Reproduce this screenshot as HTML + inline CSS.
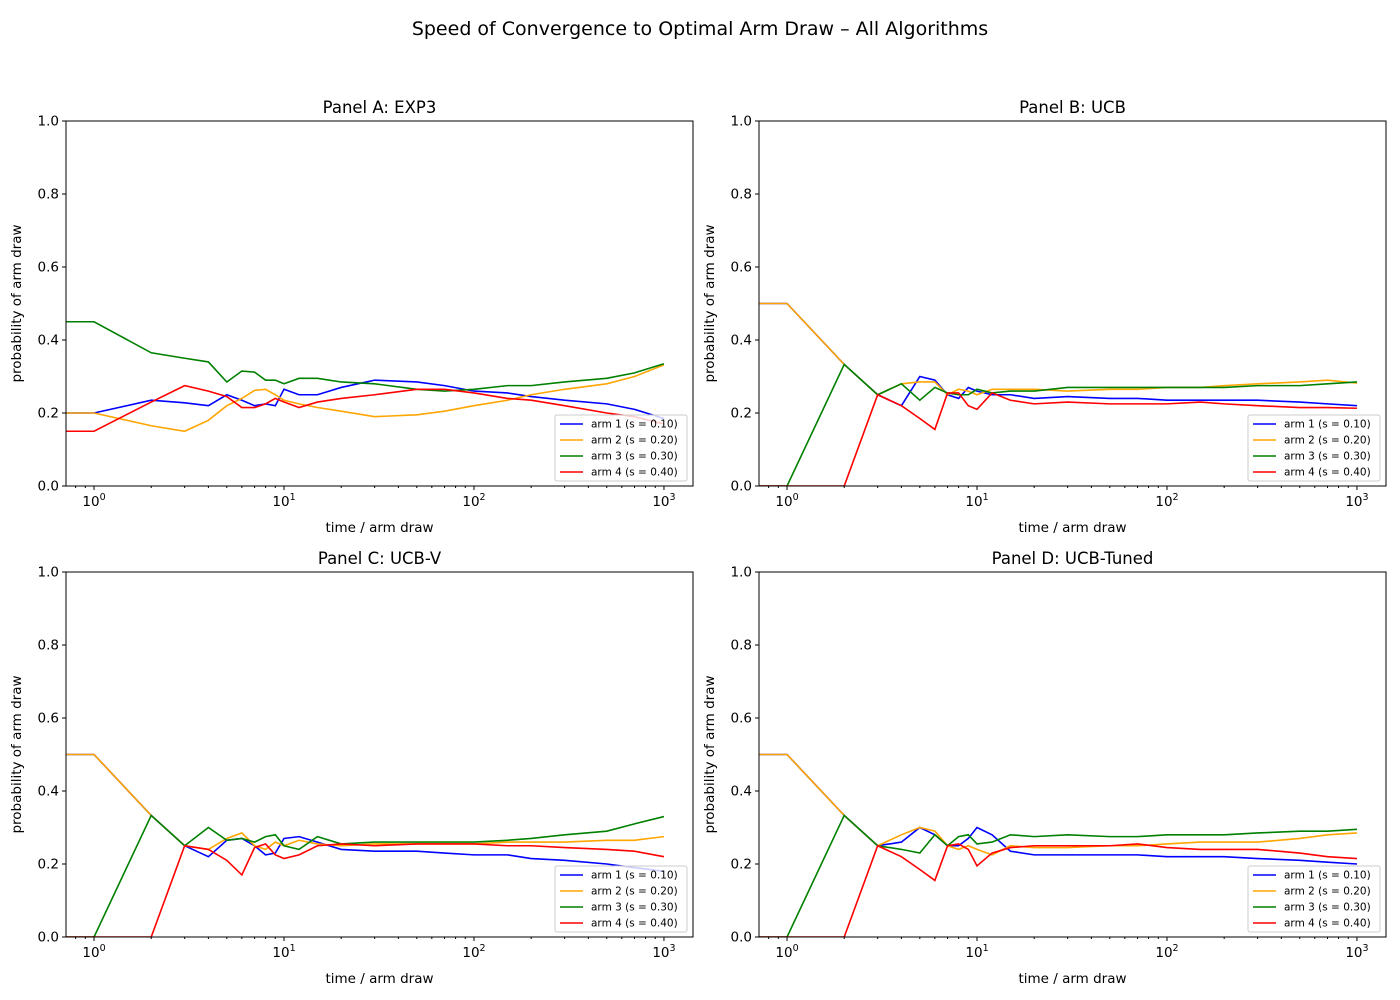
<!DOCTYPE html>
<html><head><meta charset="utf-8"><style>
html,body{margin:0;padding:0;background:#fff;}
svg{display:block;font-family:"DejaVu Sans","Liberation Sans",sans-serif;}
</style></head><body>
<svg id="fig" width="1400" height="1000" xmlns="http://www.w3.org/2000/svg">
<text x="700" y="35" text-anchor="middle" font-size="19">Speed of Convergence to Optimal Arm Draw – All Algorithms</text>
</svg>
<script>
const times = [0.5,1,2,3,4,5,6,7,8,9,10,12,15,20,30,50,70,100,150,200,300,500,700,1000];
const armLabels = ["arm 1 (s = 0.10)","arm 2 (s = 0.20)","arm 3 (s = 0.30)","arm 4 (s = 0.40)"];
const armColors = ["#0000ff","#ffa500","#008000","#ff0000"];
const panelTitles = ["Panel A: EXP3","Panel B: UCB","Panel C: UCB-V","Panel D: UCB-Tuned"];
const yTicks = [0,0.2,0.4,0.6,0.8,1.0];
const xTickExps = [0,1,2,3];
const expA = [
 [0.2,0.2,0.235,0.228,0.22,0.25,0.235,0.22,0.225,0.22,0.265,0.25,0.25,0.27,0.29,0.285,0.275,0.26,0.255,0.245,0.235,0.225,0.21,0.185],
 [0.2,0.2,0.165,0.15,0.18,0.22,0.24,0.262,0.265,0.25,0.235,0.225,0.215,0.205,0.19,0.195,0.205,0.22,0.235,0.25,0.265,0.28,0.3,0.332],
 [0.45,0.45,0.365,0.35,0.34,0.285,0.315,0.312,0.29,0.29,0.28,0.295,0.295,0.285,0.28,0.265,0.26,0.265,0.275,0.275,0.285,0.295,0.31,0.335],
 [0.15,0.15,0.23,0.275,0.26,0.245,0.215,0.215,0.225,0.24,0.23,0.215,0.23,0.24,0.25,0.265,0.265,0.255,0.24,0.235,0.22,0.2,0.19,0.17]];
const ucbB = [
 [0.5,0.5,0.333,0.25,0.22,0.3,0.29,0.25,0.24,0.27,0.26,0.25,0.25,0.24,0.245,0.24,0.24,0.235,0.235,0.235,0.235,0.23,0.225,0.22],
 [0.5,0.5,0.333,0.25,0.28,0.285,0.285,0.25,0.265,0.26,0.25,0.265,0.265,0.265,0.26,0.265,0.265,0.27,0.27,0.275,0.28,0.285,0.29,0.282],
 [0,0,0.333,0.25,0.28,0.235,0.27,0.255,0.25,0.25,0.265,0.255,0.26,0.26,0.27,0.27,0.27,0.27,0.27,0.27,0.275,0.275,0.28,0.285],
 [0,0,0,0.25,0.22,0.185,0.155,0.255,0.255,0.22,0.21,0.255,0.235,0.225,0.23,0.225,0.225,0.225,0.23,0.225,0.22,0.215,0.215,0.213]];
const ucbvC = [
 [0.5,0.5,0.333,0.25,0.22,0.265,0.27,0.25,0.225,0.23,0.27,0.275,0.26,0.24,0.235,0.235,0.23,0.225,0.225,0.215,0.21,0.2,0.19,0.18],
 [0.5,0.5,0.333,0.25,0.24,0.27,0.285,0.25,0.24,0.26,0.25,0.265,0.255,0.25,0.255,0.255,0.255,0.255,0.26,0.26,0.26,0.265,0.265,0.275],
 [0,0,0.333,0.25,0.3,0.265,0.27,0.26,0.275,0.28,0.25,0.24,0.275,0.255,0.26,0.26,0.26,0.26,0.265,0.27,0.28,0.29,0.31,0.33],
 [0,0,0,0.25,0.24,0.21,0.17,0.245,0.255,0.225,0.215,0.225,0.25,0.255,0.25,0.255,0.255,0.255,0.25,0.25,0.245,0.24,0.235,0.22]];
const tunedD = [
 [0.5,0.5,0.333,0.25,0.26,0.3,0.28,0.25,0.25,0.27,0.3,0.28,0.235,0.225,0.225,0.225,0.225,0.22,0.22,0.22,0.215,0.21,0.205,0.2],
 [0.5,0.5,0.333,0.25,0.28,0.3,0.29,0.25,0.24,0.25,0.24,0.225,0.25,0.245,0.245,0.25,0.25,0.255,0.26,0.26,0.26,0.27,0.28,0.285],
 [0,0,0.333,0.25,0.24,0.23,0.28,0.25,0.275,0.28,0.255,0.26,0.28,0.275,0.28,0.275,0.275,0.28,0.28,0.28,0.285,0.29,0.29,0.295],
 [0,0,0,0.25,0.22,0.185,0.155,0.25,0.255,0.24,0.195,0.23,0.245,0.25,0.25,0.25,0.255,0.245,0.24,0.24,0.24,0.23,0.22,0.215]];
const panelData = [expA, ucbB, ucbvC, tunedD];

const NS = "http://www.w3.org/2000/svg";
const fig = document.getElementById('fig');
function mk(tag, attrs, parent){const e=document.createElementNS(NS,tag);for(const k in attrs)e.setAttribute(k,attrs[k]);(parent||fig).appendChild(e);return e;}
const origins = [[66,121],[759,121],[66,572],[759,572]];
const W=627, H=365;
const xMinLog=Math.log10(0.712), xMaxLog=Math.log10(1422);
const slugs=["panel-a","panel-b","panel-c","panel-d"];
panelData.forEach((series,p)=>{
  const [ox,oy]=origins[p];
  const xs=t=>ox+(Math.log10(t)-xMinLog)/(xMaxLog-xMinLog)*W;
  const ys=v=>oy+H-v*H;
  const g=mk('g',{});
  
  
  const clipId='clip'+p;
  const cp=mk('clipPath',{id:clipId},g); mk('rect',{x:ox,y:oy,width:W,height:H},cp);
  series.forEach((vals,a)=>{
    const d=vals.map((v,i)=>(i?'L':'M')+xs(times[i]).toFixed(2)+','+ys(v).toFixed(2)).join(' ');
    const path=mk('path',{d:d,fill:'none',stroke:armColors[a],'stroke-width':1.6,'clip-path':'url(#'+clipId+')'},g);
    
    
  });
  const frame=mk('rect',{x:ox,y:oy,width:W,height:H,fill:'none',stroke:'#000','stroke-width':1},g);
  
  
  yTicks.forEach(v=>{
    const y=ys(v);
    mk('line',{x1:ox-4,x2:ox,y1:y,y2:y,stroke:'#000'},g);
    const t=mk('text',{x:ox-7,y:y+4.5,'text-anchor':'end','font-size':13.5},g); t.textContent=v.toFixed(1);
    
    
  });
  for(let e=-1;e<=3;e++){for(let m=1;m<10;m++){const t=m*Math.pow(10,e);const lg=Math.log10(t);if(lg<xMinLog||lg>xMaxLog)continue;const x=xs(t);
    mk('line',{x1:x,x2:x,y1:oy+H,y2:oy+H+(m===1?4:2),stroke:'#000'},g);}}
  xTickExps.forEach(e=>{
    const x=xs(Math.pow(10,e));
    const t=mk('text',{x:x,y:oy+H+20,'text-anchor':'middle','font-size':13.5},g);
    
    
    const a=mk('tspan',{},t); a.textContent='10';
    const b=mk('tspan',{dy:-6,'font-size':9.5},t); b.textContent=String(e);
  });
  const xl=mk('text',{x:ox+W/2,y:oy+H+46,'text-anchor':'middle','font-size':13.5},g); xl.textContent='time / arm draw';
  
  
  const yl=mk('text',{x:0,y:0,'text-anchor':'middle','font-size':13.5,transform:`translate(${ox-45},${oy+H/2}) rotate(-90)`},g); yl.textContent='probability of arm draw';
  
  
  const tt=mk('text',{x:ox+W/2,y:oy-8,'text-anchor':'middle','font-size':16.5},g); tt.textContent=panelTitles[p];
  
  
  const lg=mk('g',{},g);
  
  
  const lx=ox+489, ly=oy+294;
  mk('rect',{x:lx,y:ly,width:132,height:66,rx:2,fill:'#fff','fill-opacity':0.8,stroke:'#ccc'},lg);
  armLabels.forEach((lab,a)=>{
    const yy=ly+9+a*16;
    mk('line',{x1:lx+5,x2:lx+28,y1:yy,y2:yy,stroke:armColors[a],'stroke-width':1.6},lg);
    const t=mk('text',{x:lx+36,y:yy+3.5,'font-size':10.5},lg); t.textContent=lab;
    
    
  });
});
</script>
</body></html>
